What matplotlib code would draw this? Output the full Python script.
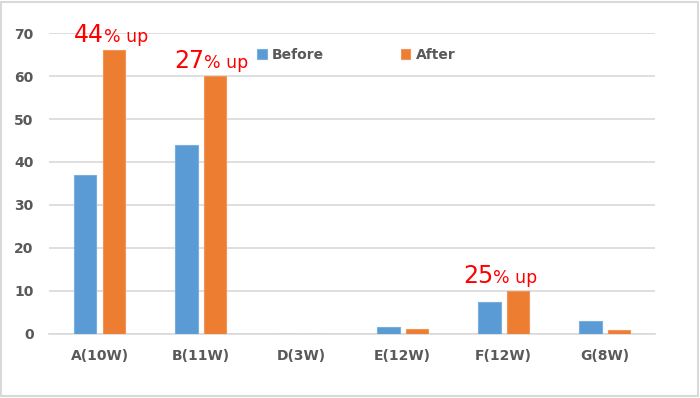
import numpy as np
import matplotlib
matplotlib.use("Agg")
from matplotlib import pyplot as plt
from matplotlib.patches import Rectangle

# --- data ---
categories = ["A(10W)", "B(11W)", "D(3W)", "E(12W)", "F(12W)", "G(8W)"]
before = [37, 44, 0, 1.5, 7.4, 2.9]
after = [66, 60, 0, 1.1, 10, 0.9]

# annotations: category index, split x offset, big part, small part
note_idx = [0, 1, 4]
note_big = ["44", "27", "25"]
note_small = ["% up", "% up", "% up"]
note_dx = [0.045, 0.035, -0.104]

blue = "#5B9BD5"
orange = "#ED7D31"
grey_txt = "#595959"
grid_c = "#D9D9D9"

fig = plt.figure(figsize=(7, 3.98), dpi=100)
ax = fig.add_axes([0.07, 0.161, 0.866, 0.756])

x = np.arange(len(categories))
w = 0.22
gap = 0.06
ax.bar(x - (w + gap) / 2, before, w, color=blue, edgecolor="#7AAEDD", linewidth=0.8, label="Before", zorder=3)
ax.bar(x + (w + gap) / 2, after, w, color=orange, edgecolor="#F0955A", linewidth=0.8, label="After", zorder=3)

ax.set_xlim(-0.5, len(categories) - 0.5)
ax.set_ylim(0, 70)
ax.set_yticks(range(0, 71, 10))
ax.set_xticks(x)
ax.set_xticklabels(categories)
ax.yaxis.grid(True, color=grid_c, linewidth=1.2, zorder=0)
ax.set_axisbelow(True)
for s in ["top", "right", "left"]:
    ax.spines[s].set_visible(False)
ax.spines["bottom"].set_color(grid_c)
ax.spines["bottom"].set_linewidth(1.2)
ax.tick_params(axis="both", length=0, labelsize=10, colors=grey_txt)
ax.tick_params(axis="x", pad=11)
ax.tick_params(axis="y", pad=11)
for lab in ax.get_xticklabels() + ax.get_yticklabels():
    lab.set_fontweight("bold")

# red "xx% up" notes
for i, big, small, dx in zip(note_idx, note_big, note_small, note_dx):
    y = after[i] + 1.8
    ax.text(i + dx, y, big, color="red", fontsize=17, ha="right", va="baseline")
    ax.text(i + dx, y, small, color="red", fontsize=12.5, ha="left", va="baseline")

leg = ax.legend(loc="center left", bbox_to_anchor=(0.343, 0.927), ncol=2, frameon=False,
                handlelength=0.7, handleheight=0.7, handletextpad=0.4,
                borderpad=0, borderaxespad=0,
                columnspacing=5.5, prop={"size": 10, "weight": "bold"})
for t in leg.get_texts():
    t.set_color(grey_txt)

# outer light border
fig.patches.append(Rectangle((0.002, 0.004), 0.995, 0.992, transform=fig.transFigure,
                             fill=False, edgecolor="#D9D9D9", linewidth=1.5))

fig.savefig("out.png", dpi=100)
